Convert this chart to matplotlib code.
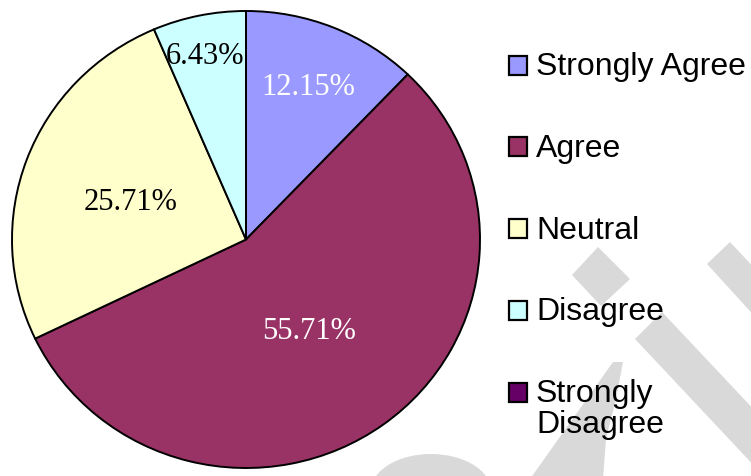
import matplotlib
matplotlib.use("Agg")
import numpy as np
import matplotlib.pyplot as plt
from matplotlib.patches import Polygon, Rectangle, Ellipse
from matplotlib.transforms import offset_copy

# Survey response shares (%)
categories = ["Strongly Agree", "Agree", "Neutral", "Disagree", "Strongly\nDisagree"]
shares = [12.15, 55.71, 25.71, 6.43, 0.0]
pct_labels = ["12.15%", "55.71%", "25.71%", "6.43%", ""]

colors = ["#9999FF", "#993366", "#FFFFCC", "#CCFFFF", "#660066"]
label_colors = ["white", "white", "black", "black", "black"]
label_dist = [0.74, 0.47, 0.52, 0.84, 0.5]

W, H = 751, 477
fig = plt.figure(figsize=(W / 100, H / 100), dpi=100)
fig.patch.set_facecolor("white")

# background watermark (pixel coords, y down)
bg = fig.add_axes([0, 0, 1, 1], zorder=0)
bg.set_xlim(0, W)
bg.set_ylim(H, 0)
bg.axis("off")
wm = "#d9d9d9"
bg.add_patch(Polygon([(598, 248), (630, 280), (601, 307), (572, 276)], color=wm, lw=0))
bg.add_patch(Polygon([(635, 340), (662, 313), (760, 417), (760, 473)], color=wm, lw=0))
bg.add_patch(Polygon([(707, 265), (730, 243), (760, 275), (760, 323)], color=wm, lw=0))
bg.add_patch(Polygon([(530, 480), (613, 363), (623, 363), (616, 400), (606, 440), (603, 480)], color=wm, lw=0))
bg.add_patch(Ellipse((431, 492), 120, 74, color=wm, lw=0))

# pie (slightly elliptical, as in the source)
ax = fig.add_axes([12 / W, 8 / H, 468 / W, 457 / H], zorder=1)
ax.patch.set_alpha(0)
wedges, _ = ax.pie(shares, colors=colors, startangle=90, counterclock=False,
                   wedgeprops=dict(edgecolor="black", linewidth=1.4))
ax.set_aspect("auto")
ax.set_xlim(-1, 1)
ax.set_ylim(-1, 1)

lab_tr = offset_copy(ax.transData, fig=fig, x=-2, y=-4, units="dots")
for w, lab, c, d in zip(wedges, pct_labels, label_colors, label_dist):
    if not lab:
        continue
    ang = np.deg2rad((w.theta1 + w.theta2) / 2)
    ax.text(d * np.cos(ang), d * np.sin(ang), lab, color=c, ha="center", va="center",
            fontsize=22, family="Liberation Serif", transform=lab_tr)

# legend drawn by hand so the marker sits on the first line
lg = fig.add_axes([0, 0, 1, 1], zorder=2)
lg.set_xlim(0, W)
lg.set_ylim(H, 0)
lg.axis("off")
y0, step = 66, 81.8
for i, (name, col) in enumerate(zip(categories, colors)):
    yc = y0 + i * step
    lg.add_patch(Rectangle((509, yc - 9.5), 18, 19, facecolor=col, edgecolor="black", lw=1.6))
    lg.text(536, yc - 14, name, ha="left", va="top", fontsize=23,
            family="Liberation Sans", linespacing=1.05)

fig.savefig("out.png", dpi=100)
